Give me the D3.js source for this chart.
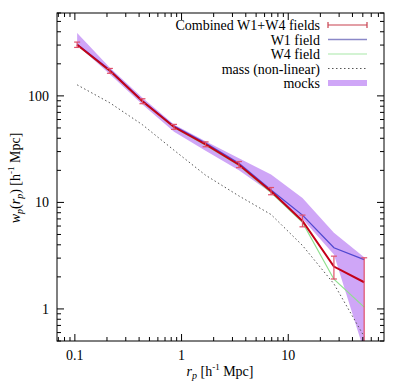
<!DOCTYPE html>
<html><head><meta charset="utf-8">
<script src="https://cdn.jsdelivr.net/npm/d3@7"></script>
<style>body{margin:0;background:#fff}svg{display:block}text{font-family:"Liberation Serif","Times New Roman",serif;fill:#000}</style>
</head><body><svg id="c" width="400" height="381"></svg>
<script>
const rp = [0.105, 0.213, 0.43, 0.85, 1.68, 3.45, 6.9, 13.6, 26.8, 51.5];
const combined = [302, 172, 89, 51, 35, 22.6, 12.7, 6.7, 2.5, 1.78];
const combinedLo = [285, 163, 84.5, 48.5, 33.3, 21.2, 11.8, 5.9, 1.91, 0.3];
const combinedHi = [320, 181, 94, 54, 37, 24.2, 13.8, 7.6, 3.13, 3.02];
const w1 = [305, 175, 90, 52, 36, 23.3, 13.1, 7.6, 3.75, 2.91];
const w4 = [300, 170, 88, 50.5, 34.5, 22.2, 12.4, 6.5, 1.9, 1.04];
const mass = [127, 86, 53.6, 30.9, 18.0, 11.5, 7.7, 3.94, 1.72, 0.55];
const mockLo = [300, 160, 83, 46, 30.5, 20, 12.3, 7.0, 3.25, 0.4];
const mockHi = [390, 184, 96, 54, 37.5, 26, 18.3, 11.0, 5.2, 3.05];
const xTicks = [0.1, 1, 10];
const yTicks = [1, 10, 100];
const legendLabels = ["Combined W1+W4 fields", "W1 field", "W4 field", "mass (non-linear)", "mocks"];

const svg = d3.select("#c");
const L = 57, R = 384, T = 13, B = 341;
const x = d3.scaleLog().domain([0.068, 79]).range([L, R]);
const y = d3.scaleLog().domain([0.5, 600]).range([B, T]);

const defs = svg.append("defs");
defs.append("clipPath").attr("id", "clip").append("rect")
  .attr("x", L).attr("y", T).attr("width", R - L).attr("height", B - T);
const g = svg.append("g").attr("clip-path", "url(#clip)");

const idx = d3.range(rp.length);
// mocks band
g.append("path")
  .attr("d", d3.area().x(i => x(rp[i])).y0(i => y(mockLo[i])).y1(i => y(mockHi[i]))(idx))
  .attr("fill", "#cfa6f7").attr("stroke", "none");
const ln = arr => d3.line().x(i => x(rp[i])).y(i => y(arr[i]))(idx);
g.append("path").attr("d", ln(mass)).attr("fill", "none").attr("stroke", "#555").attr("stroke-width", 1).attr("stroke-dasharray", "1.5,2.5");
g.append("path").attr("d", ln(w4)).attr("fill", "none").attr("stroke", "#8fe08f").attr("stroke-width", 1.2);
g.append("path").attr("d", ln(w1)).attr("fill", "none").attr("stroke", "#5048d0").attr("stroke-width", 1.3);
g.append("path").attr("d", ln(combined)).attr("fill", "none").attr("stroke", "#c40018").attr("stroke-width", 2);
// error bars
const eb = g.append("g").attr("stroke", "#e0506a").attr("stroke-width", 1.2);
idx.forEach(i => {
  const cx = x(rp[i]);
  eb.append("line").attr("x1", cx).attr("x2", cx).attr("y1", y(combinedLo[i])).attr("y2", y(combinedHi[i]));
  eb.append("line").attr("x1", cx - 3).attr("x2", cx + 3).attr("y1", y(combinedLo[i])).attr("y2", y(combinedLo[i]));
  eb.append("line").attr("x1", cx - 3).attr("x2", cx + 3).attr("y1", y(combinedHi[i])).attr("y2", y(combinedHi[i]));
});

// frame
svg.append("rect").attr("x", L).attr("y", T).attr("width", R - L).attr("height", B - T)
  .attr("fill", "none").attr("stroke", "#000").attr("stroke-width", 1);

// ticks
const xMinor = [];
[0.01, 0.1, 1, 10].forEach(d => { for (let k = 2; k <= 9; k++) { const v = d * k; if (v >= 0.068 && v <= 79 && !xTicks.includes(v)) xMinor.push(v); } });
const yMinor = [];
[0.1, 1, 10, 100].forEach(d => { for (let k = 2; k <= 9; k++) { const v = d * k; if (v >= 0.5 && v <= 600) yMinor.push(v); } });
const tk = svg.append("g").attr("stroke", "#000").attr("stroke-width", 1);
const xt = (v, len) => {
  tk.append("line").attr("x1", x(v)).attr("x2", x(v)).attr("y1", B).attr("y2", B - len);
  tk.append("line").attr("x1", x(v)).attr("x2", x(v)).attr("y1", T).attr("y2", T + len);
};
const yt = (v, len) => {
  tk.append("line").attr("y1", y(v)).attr("y2", y(v)).attr("x1", L).attr("x2", L + len);
  tk.append("line").attr("y1", y(v)).attr("y2", y(v)).attr("x1", R).attr("x2", R - len);
};
xTicks.forEach(v => xt(v, 7)); xMinor.forEach(v => xt(v, 4));
yTicks.forEach(v => yt(v, 7)); yMinor.forEach(v => yt(v, 4));

const fs = 14;
xTicks.forEach(v => svg.append("text").attr("x", x(v)).attr("y", 360).attr("text-anchor", "middle").attr("font-size", fs).text(d3.format("~g")(v)));
yTicks.forEach(v => svg.append("text").attr("x", 49).attr("y", y(v) + 5).attr("text-anchor", "end").attr("font-size", fs).text(d3.format("~g")(v)));

// x title
const xtl = svg.append("text").attr("x", 220).attr("y", 376).attr("text-anchor", "middle").attr("font-size", fs);
xtl.append("tspan").attr("font-style", "italic").text("r");
xtl.append("tspan").attr("font-style", "italic").attr("font-size", 10).attr("dy", 3).text("p");
xtl.append("tspan").attr("dy", -3).text("  [h");
xtl.append("tspan").attr("font-size", 9).attr("dy", -6).text("-1");
xtl.append("tspan").attr("dy", 6).text(" Mpc]");
// y title
const ytl = svg.append("text").attr("transform", "translate(20,178) rotate(-90)").attr("text-anchor", "middle").attr("font-size", fs);
ytl.append("tspan").attr("font-style", "italic").text("w");
ytl.append("tspan").attr("font-style", "italic").attr("font-size", 10).attr("dy", 3).text("p");
ytl.append("tspan").attr("dy", -3).text("(");
ytl.append("tspan").attr("font-style", "italic").text("r");
ytl.append("tspan").attr("font-style", "italic").attr("font-size", 10).attr("dy", 3).text("p");
ytl.append("tspan").attr("dy", -3).text(")  [h");
ytl.append("tspan").attr("font-size", 9).attr("dy", -6).text("-1");
ytl.append("tspan").attr("dy", 6).text(" Mpc]");

// legend
const lx0 = 328, lx1 = 367, ly0 = 25, ldy = 14.5;
legendLabels.forEach((t, i) => {
  const ly = ly0 + i * ldy;
  svg.append("text").attr("x", 320).attr("y", ly + 5).attr("text-anchor", "end").attr("font-size", fs).text(t);
  if (i === 0) {
    svg.append("line").attr("x1", lx0).attr("x2", lx1).attr("y1", ly).attr("y2", ly).attr("stroke", "#c8404e").attr("stroke-width", 1.2);
    [lx0, lx1].forEach(xx => svg.append("line").attr("x1", xx).attr("x2", xx).attr("y1", ly - 3).attr("y2", ly + 3).attr("stroke", "#c8404e").attr("stroke-width", 1.2));
  } else if (i === 1) {
    svg.append("line").attr("x1", lx0).attr("x2", lx1).attr("y1", ly).attr("y2", ly).attr("stroke", "#8a88c8").attr("stroke-width", 1.3);
  } else if (i === 2) {
    svg.append("line").attr("x1", lx0).attr("x2", lx1).attr("y1", ly).attr("y2", ly).attr("stroke", "#a8e8a8").attr("stroke-width", 1.2);
  } else if (i === 3) {
    svg.append("line").attr("x1", lx0).attr("x2", lx1).attr("y1", ly).attr("y2", ly).attr("stroke", "#555").attr("stroke-width", 1).attr("stroke-dasharray", "1.5,2.5");
  } else {
    svg.append("rect").attr("x", lx0).attr("y", ly - 3).attr("width", lx1 - lx0).attr("height", 6).attr("fill", "#cfa6f7");
  }
});
</script></body></html>
